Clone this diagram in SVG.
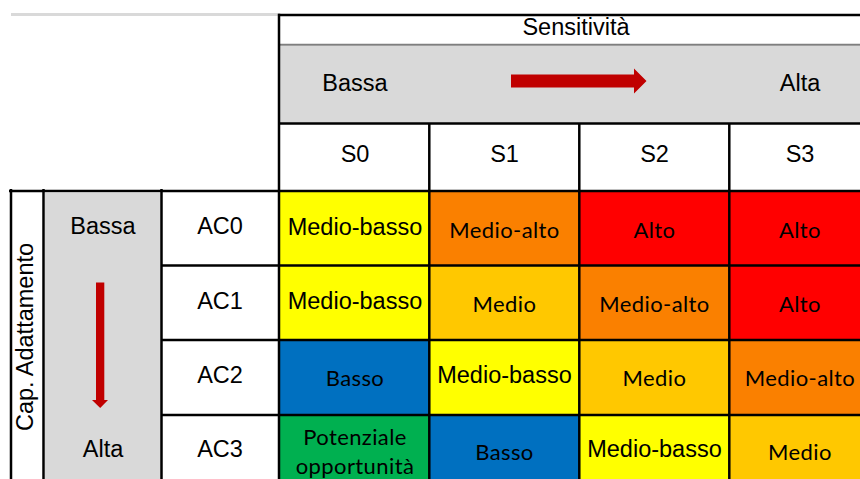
<svg xmlns="http://www.w3.org/2000/svg" width="860" height="479" viewBox="0 0 860 479">
<style>
.a{font-family:"Liberation Sans",Arial,sans-serif;font-size:23.5px;fill:#000;text-anchor:middle}
.c{font-family:Lato,"Open Sans",sans-serif;font-size:22px;fill:#000;text-anchor:middle;letter-spacing:0.4px}
.ln{stroke:#000;stroke-width:2.5;fill:none}
.arr{fill:#c00000}
.yl{fill:#ffff00}.or{fill:#fa8000}.rd{fill:#ff0000}.gd{fill:#ffc800}.bl{fill:#0070c0}.gr{fill:#00b050}
</style>
<rect width="860" height="479" fill="#fff"/>
<g id="header">
  <rect x="280" y="46" width="590" height="77" fill="#d9d9d9"/>
  <text class="a" x="576" y="35">Sensitività</text>
  <text class="a" x="355" y="90.7">Bassa</text>
  <text class="a" x="800" y="90.7">Alta</text>
  <polygon class="arr" points="511,74.5 634,74.5 634,68.5 646.5,81 634,93.5 634,87.5 511,87.5"/>
</g>
<g id="s-labels">
  <text class="a" x="355" y="162">S0</text>
  <text class="a" x="504.5" y="162">S1</text>
  <text class="a" x="654.5" y="162">S2</text>
  <text class="a" x="800" y="162">S3</text>
</g>
<g id="side">
  <rect x="45" y="193" width="116" height="297" fill="#d9d9d9"/>
  <text class="a" transform="translate(33,337) rotate(-90)">Cap. Adattamento</text>
  <text class="a" x="103" y="234">Bassa</text>
  <text class="a" x="103" y="457">Alta</text>
  <polygon class="arr" points="96,282.5 104.3,282.5 104.3,400 108,400 100.2,408 92,400 96,400"/>
</g>
<g id="ac-labels">
  <text class="a" x="220" y="234">AC0</text>
  <text class="a" x="220" y="308.5">AC1</text>
  <text class="a" x="220" y="383">AC2</text>
  <text class="a" x="220" y="457">AC3</text>
</g>
<g id="row-ac0">
  <rect class="yl" x="280" y="191" width="150" height="75"/>
  <rect class="or" x="430" y="191" width="150" height="75"/>
  <rect class="rd" x="580" y="191" width="150" height="75"/>
  <rect class="rd" x="730" y="191" width="140" height="75"/>
  <text class="a" x="355" y="235">Medio-basso</text>
  <text class="c" x="504.5" y="238">Medio-alto</text>
  <text class="c" x="654.5" y="238">Alto</text>
  <text class="c" x="800" y="238">Alto</text>
</g>
<g id="row-ac1">
  <rect class="yl" x="280" y="265.5" width="150" height="75"/>
  <rect class="gd" x="430" y="265.5" width="150" height="75"/>
  <rect class="or" x="580" y="265.5" width="150" height="75"/>
  <rect class="rd" x="730" y="265.5" width="140" height="75"/>
  <text class="a" x="355" y="308.5">Medio-basso</text>
  <text class="c" x="504.5" y="312">Medio</text>
  <text class="c" x="654.5" y="312">Medio-alto</text>
  <text class="c" x="800" y="312">Alto</text>
</g>
<g id="row-ac2">
  <rect class="bl" x="280" y="340" width="150" height="75"/>
  <rect class="yl" x="430" y="340" width="150" height="75"/>
  <rect class="gd" x="580" y="340" width="150" height="75"/>
  <rect class="or" x="730" y="340" width="140" height="75"/>
  <text class="c" x="355" y="386">Basso</text>
  <text class="a" x="504.5" y="383">Medio-basso</text>
  <text class="c" x="654.5" y="386">Medio</text>
  <text class="c" x="800" y="386">Medio-alto</text>
</g>
<g id="row-ac3">
  <rect class="gr" x="280" y="415" width="150" height="75"/>
  <rect class="bl" x="430" y="415" width="150" height="75"/>
  <rect class="yl" x="580" y="415" width="150" height="75"/>
  <rect class="gd" x="730" y="415" width="140" height="75"/>
  <text class="c" x="355" y="445">Potenziale</text>
  <text class="c" x="355" y="474">opportunità</text>
  <text class="c" x="504.5" y="460">Basso</text>
  <text class="a" x="654.5" y="457">Medio-basso</text>
  <text class="c" x="800" y="460">Medio</text>
</g>
<g id="grid">
  <line x1="11" y1="14.5" x2="278" y2="14.5" stroke="#d9d9d9" stroke-width="3"/>
  <line class="ln" x1="278" y1="15" x2="870" y2="15"/>
  <line x1="280" y1="44.8" x2="870" y2="44.8" stroke="#7f7f7f" stroke-width="2"/>
  <line class="ln" x1="280" y1="123.5" x2="870" y2="123.5" stroke-width="3"/>
  <line class="ln" x1="9" y1="191" x2="870" y2="191" stroke-width="4"/>
  <line class="ln" x1="279" y1="13.7" x2="279" y2="490" stroke-width="3.5"/>
  <line class="ln" x1="429.3" y1="123" x2="429.3" y2="490"/>
  <line class="ln" x1="579.3" y1="123" x2="579.3" y2="490"/>
  <line class="ln" x1="729.3" y1="123" x2="729.3" y2="490"/>
  <line class="ln" x1="11" y1="189" x2="11" y2="490" stroke-width="3.5"/>
  <line class="ln" x1="43.5" y1="189" x2="43.5" y2="490"/>
  <line class="ln" x1="161.5" y1="189" x2="161.5" y2="490" stroke-width="2"/>
  <line class="ln" x1="161" y1="265.5" x2="870" y2="265.5"/>
  <line class="ln" x1="161" y1="340" x2="870" y2="340"/>
  <line class="ln" x1="161" y1="415" x2="870" y2="415"/>
</g>
</svg>
